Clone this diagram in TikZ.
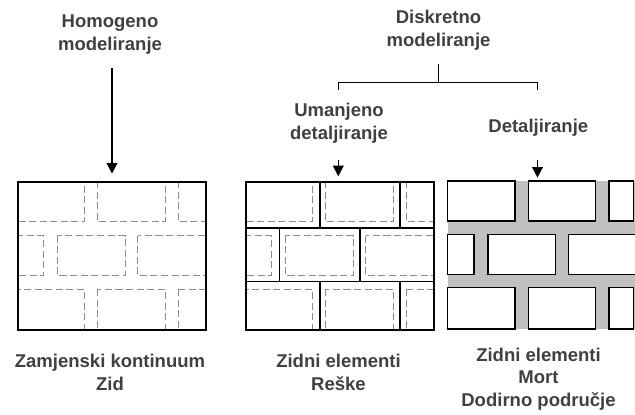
\documentclass[tikz,border=0pt]{standalone}
\usepackage{fontspec}
\setmainfont{Liberation Sans}
\usetikzlibrary{arrows.meta}
\definecolor{malter}{HTML}{C0C0C0}
\definecolor{natpis}{HTML}{404040}
% opeke: lijevo/gore/desno/dolje, u odnosu na gornji lijevi kut zida
\newcommand{\opeke}{0/0/67.3/40.7, 80.7/0/148/40.7, 161.3/0/188/40.7,
  0/54.7/26.3/94.7, 40.3/54.7/108/94.7, 120.7/54.7/188/94.7,
  0/108/67.3/148, 80.7/108/148/148, 161.3/108/188/148}
\newcommand{\opekeD}{0/0/67.3/40, 80.7/0/148/40, 161.3/0/185.6/40,
  0/53.3/26.3/93.3, 40.3/53.3/108/93.3, 120.7/53.3/195/93.3,
  0/106.7/67.3/148, 80.7/106.7/148/148, 161.3/106.7/185.6/148}

\begin{document}
\begin{tikzpicture}[x=0.03cm, y=-0.03cm, >={Triangle[length=0.32cm, width=0.32cm]},
    tekst/.style={font=\bfseries\fontsize{15.8}{19.5}\selectfont, text=natpis, align=center, anchor=base, inner sep=0pt},
    zid/.style={draw, line width=1.5pt, minimum width=5.64cm, minimum height=4.44cm, anchor=north west, inner sep=0pt},
    fuga/.style={draw=black!45, line width=0.7pt, dash pattern=on 6pt off 3pt},
    spoj/.style={line width=1.3pt},
    opeka/.style={draw, fill=white, line width=1.1pt},
    strelica/.style={->, line width=1.3pt},
    grana/.style={line width=1.3pt}]

    \useasboundingbox (0,0) rectangle (635,414);

    % --- Naslovi (sidro na zadnjem retku) ---
    \node[tekst] (homog) at (110,50) {Homogeno\\modeliranje};
    \node[tekst] (diskr) at (438.5,46.7) {Diskretno\\modeliranje};
    \node[tekst] (umanj) at (339,139.3) {Umanjeno\\detaljiranje};
    \node[tekst] (detalj) at (538.3,132.3) {Detaljiranje};

    % --- Grananje diskretnog modeliranja ---
    \coordinate (g0) at (438.5,64);
    \coordinate (g1) at (438.5,82.7);
    \coordinate (gL) at (338.3,90);
    \coordinate (gR) at (537.5,90);
    \draw[grana] (g0) -- (g1);
    \draw[grana] (gL) |- (g1) -| (gR);

    % --- Zid 1: zamjenski kontinuum ---
    \begin{scope}[shift={(17,181)}]
        \foreach \xa/\ya/\xb/\yb in \opeke
            \draw[fuga] (\xa,\ya) rectangle (\xb,\yb);
    \end{scope}
    \node[zid] (zid1) at (17,181) {};

    % --- Zid 2: zidni elementi i reške ---
    \begin{scope}[shift={(245,181)}]
        \foreach \xa/\ya/\xb/\yb in \opeke
            \draw[fuga] (\xa,\ya) rectangle (\xb,\yb);
        \draw[spoj] (0,47) -- (188,47) (0,100.5) -- (188,100.5);
        \draw[spoj] (75,0) -- (75,47) (155,0) -- (155,47);
        \draw[spoj] (34.5,47) -- (34.5,100.5) (115,47) -- (115,100.5);
        \draw[spoj] (75,100.5) -- (75,148) (155,100.5) -- (155,148);
    \end{scope}
    \node[zid] (zid2) at (245,181) {};

    % --- Zid 3: elementi, mort, dodirno područje ---
    \coordinate (zid3) at (447.7,181);
    \begin{scope}[shift={(447.7,181)}]
        \fill[malter] (0,0) rectangle (195,148);
        \foreach \xa/\ya/\xb/\yb in \opekeD
            \draw[opeka] (\xa,\ya) rectangle (\xb,\yb);
    \end{scope}

    % --- Strelice ---
    \coordinate (h0) at (112,68);
    \coordinate (u0) at (338.3,160);
    \coordinate (d0) at (537.5,160);
    \draw[strelica, shorten >=0.22cm] (h0) -- (h0 |- zid1.north);
    \draw[strelica, shorten >=0.14cm] (u0) -- (u0 |- zid2.north);
    \draw[strelica, shorten >=0.1cm] (d0) -- (d0 |- zid3);

    % --- Opisi ---
    \node[tekst] (opis1) at (110,390) {Zamjenski kontinuum\\Zid};
    \node[tekst] (opis2) at (338.5,390) {Zidni elementi\\Reške};
    \node[tekst] (opis3) at (538.5,406.7) {Zidni elementi\\Mort\\Dodirno područje};

\end{tikzpicture}
\end{document}
